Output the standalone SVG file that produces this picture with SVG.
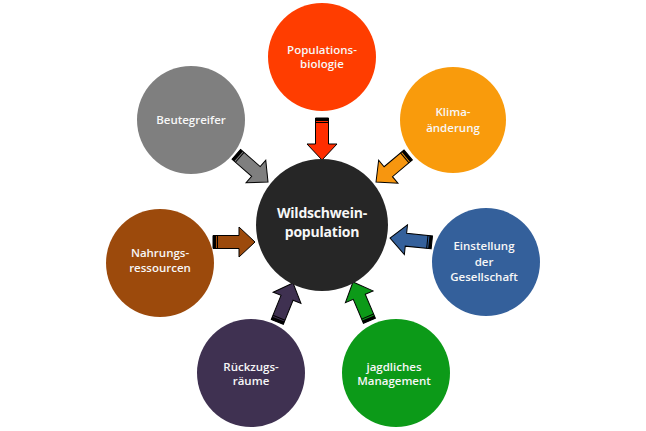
<svg xmlns="http://www.w3.org/2000/svg" xmlns:xlink="http://www.w3.org/1999/xlink" width="646" height="431" viewBox="0 0 646 431">
<style>
.lbl{font-family:"Open Sans","Liberation Sans",sans-serif;font-weight:600;font-size:11.5px;fill:#f7f7f7;text-anchor:middle}
.big{font-size:14px;font-weight:700;letter-spacing:-0.2px}
.arr{stroke:#000;stroke-width:1;stroke-linejoin:miter}
</style>
<defs>
<g id="arrow">
<polygon class="arr" points="0,-6.5 26,-6.5 26,-15 42,0 26,15 26,6.5 0,6.5"/>
<rect x="0" y="-6.5" width="3" height="13" fill="#000"/>
<line x1="4.5" y1="-6.5" x2="4.5" y2="6.5" stroke="#000" stroke-width="1"/>
</g>
</defs>
<rect width="646" height="431" fill="#fff"/>
<g id="connectors">
<use xlink:href="#arrow" fill="#ff2d00" transform="translate(322,118) rotate(90)"/>
<use xlink:href="#arrow" fill="#7f7f7f" transform="translate(236.3,154.4) rotate(41)"/>
<use xlink:href="#arrow" fill="#f7960f" transform="translate(408.2,155) rotate(140)"/>
<use xlink:href="#arrow" fill="#9c4a0c" transform="translate(213,242) rotate(0)"/>
<use xlink:href="#arrow" fill="#34609b" transform="translate(431.8,242.4) rotate(186)"/>
<use xlink:href="#arrow" fill="#3f3151" transform="translate(277.3,321.9) rotate(-68)"/>
<use xlink:href="#arrow" fill="#0c9a18" transform="translate(369.4,320.7) rotate(-113)"/>
</g>
<g id="center">
<circle cx="322" cy="225" r="66" fill="#262626"/>
<text class="lbl big" x="322" y="218">Wildschwein-</text>
<text class="lbl big" x="322" y="237">population</text>
</g>
<g id="populationsbiologie">
<circle cx="322" cy="57" r="54" fill="#ff3d00"/>
<text class="lbl" x="322" y="54">Populations-</text>
<text class="lbl" x="322" y="68">biologie</text>
</g>
<g id="klima">
<circle cx="453" cy="120" r="53" fill="#f99b0c"/>
<text class="lbl" x="453" y="116">Klima-</text>
<text class="lbl" x="453" y="132">änderung</text>
</g>
<g id="beutegreifer">
<circle cx="191" cy="120" r="54" fill="#7f7f7f"/>
<text class="lbl" x="191" y="124">Beutegreifer</text>
</g>
<g id="nahrung">
<circle cx="160" cy="263" r="54" fill="#9c4a0c"/>
<text class="lbl" x="160" y="257">Nahrungs-</text>
<text class="lbl" x="160" y="272">ressourcen</text>
</g>
<g id="einstellung">
<circle cx="486" cy="262" r="54" fill="#34609b"/>
<text class="lbl" x="484" y="250">Einstellung</text>
<text class="lbl" x="484" y="266">der</text>
<text class="lbl" x="484" y="281">Gesellschaft</text>
</g>
<g id="rueckzug">
<circle cx="251" cy="373" r="54" fill="#3f3151"/>
<text class="lbl" x="251" y="371">Rückzugs-</text>
<text class="lbl" x="251" y="385">räume</text>
</g>
<g id="jagd">
<circle cx="396" cy="373" r="54" fill="#0c9a18"/>
<text class="lbl" x="394" y="371">jagdliches</text>
<text class="lbl" x="394" y="385">Management</text>
</g>
</svg>
